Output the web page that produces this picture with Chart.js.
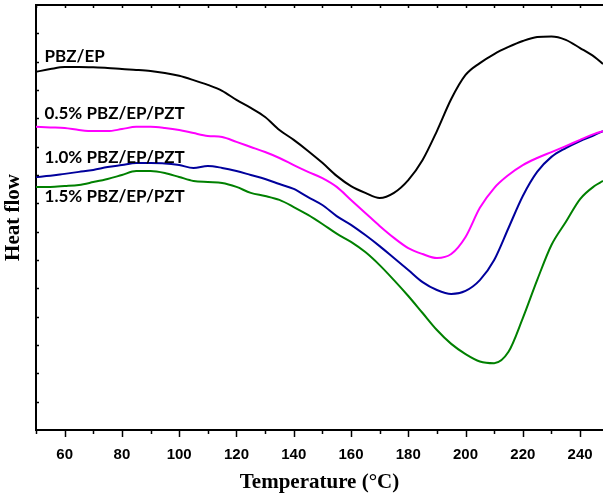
<!DOCTYPE html>
<html><head><meta charset="utf-8">
<script src="https://cdn.jsdelivr.net/npm/chart.js@4/dist/chart.umd.min.js"></script>
<style>html,body{margin:0;padding:0;background:#fff;overflow:hidden}#wrap{width:603px;height:497px;position:relative}</style>
</head><body><div id="wrap"><canvas id="c"></canvas></div>
<script>
const temperature = [50,55,60,65,70,75,80,85,90,95,100,105,110,115,120,125,130,135,140,145,150,155,160,165,170,175,180,185,190,195,200,205,210,215,220,225,230,235,240,245,248];
const pbzEp = [12.64,12.74,12.81,12.81,12.80,12.78,12.74,12.71,12.67,12.60,12.50,12.35,12.18,11.97,11.65,11.37,11.05,10.59,10.24,9.85,9.43,8.97,8.61,8.37,8.19,8.37,8.82,9.53,10.55,11.68,12.53,12.95,13.27,13.52,13.73,13.87,13.89,13.77,13.48,13.17,12.92];
const pzt05 = [10.70,10.68,10.66,10.59,10.55,10.55,10.62,10.70,10.70,10.66,10.59,10.48,10.38,10.34,10.17,9.99,9.81,9.60,9.35,9.11,8.89,8.58,8.12,7.66,7.20,6.78,6.42,6.21,6.07,6.21,6.81,7.84,8.54,9.00,9.35,9.60,9.81,10.02,10.24,10.45,10.55];
const pzt10 = [8.93,8.97,9.04,9.11,9.18,9.28,9.35,9.42,9.42,9.41,9.35,9.25,9.32,9.25,9.14,9.00,8.86,8.68,8.51,8.22,7.94,7.55,7.24,6.88,6.49,6.07,5.65,5.22,4.94,4.80,4.91,5.29,6.00,7.13,8.26,9.11,9.64,9.95,10.20,10.41,10.55];
const pzt15 = [8.58,8.58,8.61,8.65,8.75,8.86,9.00,9.14,9.14,9.07,8.93,8.79,8.75,8.72,8.58,8.37,8.26,8.12,7.87,7.59,7.27,6.93,6.64,6.28,5.82,5.29,4.73,4.13,3.53,3.04,2.68,2.42,2.36,2.76,3.95,5.29,6.53,7.34,8.15,8.61,8.79];
const seriesNames = ['PBZ/EP','0.5% PBZ/EP/PZT','1.0% PBZ/EP/PZT','1.5% PBZ/EP/PZT'];
const seriesColors = ['#000000','#ff00ff','#00009c','#008000'];
const xTickLabels = [60,80,100,120,140,160,180,200,220,240];
const labelAnchorT = [53,53,53,53];
const labelAnchorV = [12.99,10.98,9.42,8.05];

const seriesValues = [pbzEp, pzt05, pzt10, pzt15];
const datasets = seriesValues.map((vals, i) => ({
  label: seriesNames[i],
  data: temperature.map((t, j) => ({x: t, y: vals[j]})),
  borderColor: seriesColors[i],
  borderWidth: 2,
  pointRadius: 0,
  pointHoverRadius: 0,
  fill: false,
  cubicInterpolationMode: 'monotone'
}));

const decor = {
  id: 'decor',
  afterDraw(chart) {
    const ctx = chart.ctx, xs = chart.scales.x, ys = chart.scales.y, a = chart.chartArea;
    ctx.save();
    ctx.strokeStyle = '#000';
    ctx.lineWidth = 2;
    ctx.beginPath(); ctx.moveTo(a.left - 1, a.top); ctx.lineTo(a.right, a.top); ctx.stroke();
    ctx.lineWidth = 1.5;
    for (let t = 50; t <= 240; t += 10) {
      const px = Math.round(xs.getPixelForValue(t)) + 0.5;
      const major = t % 20 === 0;
      ctx.beginPath(); ctx.moveTo(px, a.bottom); ctx.lineTo(px, a.bottom + (major ? 7 : 4)); ctx.stroke();
      ctx.beginPath(); ctx.moveTo(px, a.top); ctx.lineTo(px, a.top + 3); ctx.stroke();
    }
    for (let v = 1; v < 15; v++) {
      const py = Math.round(ys.getPixelForValue(v)) + 0.5;
      ctx.beginPath(); ctx.moveTo(a.left, py); ctx.lineTo(a.left + 3, py); ctx.stroke();
    }
    ctx.fillStyle = '#000';
    ctx.font = 'bold 17px Lato';
    ctx.textAlign = 'left';
    ctx.textBaseline = 'alphabetic';
    seriesNames.forEach((n, i) => {
      ctx.fillText(n, xs.getPixelForValue(labelAnchorT[i]), ys.getPixelForValue(labelAnchorV[i]));
    });
    ctx.restore();
  }
};

new Chart(document.getElementById('c'), {
  type: 'line',
  data: { datasets },
  options: {
    responsive: true,
    maintainAspectRatio: false,
    animation: false,
    layout: { autoPadding: false, padding: { top: 5, right: 0, left: 0, bottom: 0 } },
    plugins: { legend: { display: false }, tooltip: { enabled: false } },
    scales: {
      x: {
        type: 'linear', min: 50, max: 248,
        afterBuildTicks: s => { s.ticks = xTickLabels.map(v => ({ value: v })); },
        afterFit: s => { s.height = 67; s.paddingRight = 0; },
        grid: { display: false },
        border: { display: true, color: '#000', width: 2 },
        ticks: { color: '#000', font: { family: 'Liberation Sans', weight: 'bold', size: 15 }, padding: 8, maxRotation: 0 },
        title: { display: true, text: 'Temperature (°C)', color: '#000', font: { family: 'Liberation Serif', weight: 'bold', size: 21 }, padding: { top: 0, bottom: 2 } }
      },
      y: {
        type: 'linear', min: 0, max: 15,
        afterFit: s => { s.width = 36; },
        grid: { display: false },
        border: { display: true, color: '#000', width: 2 },
        ticks: { display: false },
        title: { display: true, text: 'Heat flow', color: '#000', font: { family: 'Liberation Serif', weight: 'bold', size: 21 }, padding: { top: 1, bottom: 0 } }
      }
    }
  },
  plugins: [decor]
});
</script>
</body></html>
